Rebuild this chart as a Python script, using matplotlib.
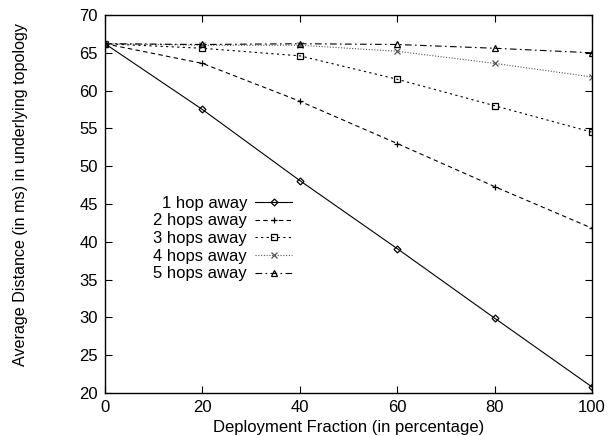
import matplotlib
matplotlib.use("Agg")
import matplotlib.pyplot as plt

plt.rcParams['font.family'] = ['Liberation Sans', 'DejaVu Sans']

fraction = [0, 20, 40, 60, 80, 100]
hop1 = [66.2, 57.5, 48.1, 39.1, 29.9, 20.8]
hop2 = [66.2, 63.6, 58.6, 53.0, 47.3, 41.8]
hop3 = [66.2, 65.6, 64.6, 61.5, 58.0, 54.5]
hop4 = [66.2, 66.0, 66.0, 65.2, 63.6, 61.8]
hop5 = [66.2, 66.1, 66.2, 66.1, 65.6, 65.0]
labels = ["1 hop away", "2 hops away", "3 hops away", "4 hops away", "5 hops away"]
xticks = [0, 20, 40, 60, 80, 100]
yticks = [20, 25, 30, 35, 40, 45, 50, 55, 60, 65, 70]

fig = plt.figure(figsize=(6.13, 4.36), dpi=100)
ax = fig.add_axes([105 / 613, 1 - 393 / 436, 487 / 613, 378 / 436])

styles = [
    dict(color="black", ls="-", marker="D", ms=3.5, mfc="none"),
    dict(color="black", ls=(0, (4, 3)), marker="+", ms=5),
    dict(color="black", ls=(0, (2, 3)), marker="s", ms=5, mfc="none"),
    dict(color="#555555", ls=(0, (1, 1.5)), marker="x", ms=5),
    dict(color="black", ls=(0, (6, 3, 1.5, 3)), marker="^", ms=4.5, mfc="none"),
]
for ys, lab, st in zip([hop1, hop2, hop3, hop4, hop5], labels, styles):
    ax.plot(fraction, ys, lw=0.8, mew=0.9, label=lab, **st)

ax.set_xlim(0, 100)
ax.set_ylim(20, 70)
ax.set_xticks(xticks)
ax.set_yticks(yticks)
ax.tick_params(direction="in", top=True, right=True, labelsize=12, length=5, width=0.8, pad=5)
for s in ax.spines.values():
    s.set_linewidth(1.0)

ax.set_xlabel("Deployment Fraction (in percentage)", fontsize=12, labelpad=3.5)
ax.set_ylabel("Average Distance (in ms) in underlying topology", fontsize=11.6)
ax.yaxis.set_label_coords(-0.158, 0.526)

ax.legend(loc="upper right", bbox_to_anchor=(0.384, 0.522), markerfirst=False,
          frameon=False, fontsize=12, handlelength=2.2, handletextpad=0.5,
          labelspacing=0.16, borderpad=0, borderaxespad=0)

fig.savefig("out.png", dpi=100)
